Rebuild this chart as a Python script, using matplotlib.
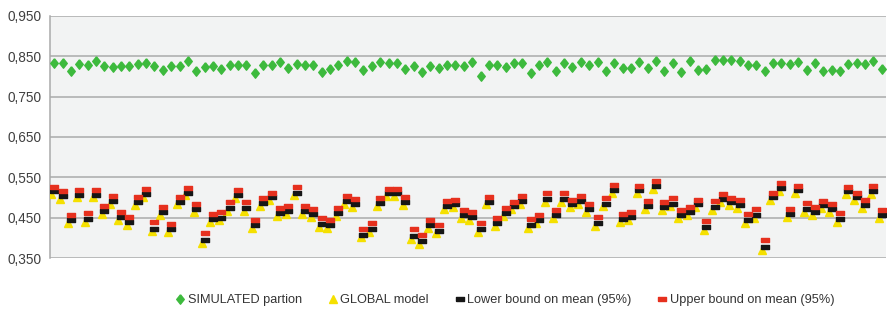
import numpy as np
import matplotlib
matplotlib.use('Agg')
import matplotlib.pyplot as plt
import matplotlib.transforms as mtransforms
from matplotlib.lines import Line2D

plt.rcParams['font.family'] = ['Liberation Sans', 'DejaVu Sans']

# values, one per run (100 runs)
simulated = [0.833, 0.833, 0.814, 0.832, 0.828, 0.838, 0.825, 0.823, 0.825, 0.825,
             0.831, 0.833, 0.825, 0.817, 0.825, 0.827, 0.838, 0.814, 0.823, 0.825,
             0.818, 0.828, 0.829, 0.829, 0.808, 0.828, 0.829, 0.835, 0.821, 0.832,
             0.828, 0.828, 0.810, 0.819, 0.828, 0.838, 0.836, 0.817, 0.825, 0.835,
             0.833, 0.833, 0.819, 0.825, 0.811, 0.825, 0.821, 0.828, 0.828, 0.825,
             0.835, 0.800, 0.829, 0.828, 0.823, 0.833, 0.833, 0.808, 0.828, 0.836,
             0.813, 0.833, 0.823, 0.836, 0.829, 0.836, 0.814, 0.833, 0.821, 0.821,
             0.836, 0.821, 0.839, 0.814, 0.833, 0.811, 0.839, 0.817, 0.819, 0.840,
             0.842, 0.842, 0.838, 0.829, 0.828, 0.813, 0.833, 0.833, 0.831, 0.836,
             0.817, 0.833, 0.813, 0.817, 0.814, 0.831, 0.833, 0.831, 0.838, 0.818]

lower = [0.515, 0.504, 0.443, 0.507, 0.446, 0.507, 0.467, 0.492, 0.452, 0.439,
         0.488, 0.508, 0.423, 0.464, 0.421, 0.490, 0.512, 0.471, 0.395, 0.446,
         0.450, 0.474, 0.506, 0.474, 0.431, 0.487, 0.500, 0.462, 0.466, 0.512,
         0.466, 0.459, 0.435, 0.431, 0.462, 0.492, 0.484, 0.408, 0.422, 0.487,
         0.510, 0.510, 0.488, 0.404, 0.392, 0.431, 0.418, 0.478, 0.483, 0.457,
         0.451, 0.422, 0.490, 0.437, 0.462, 0.478, 0.491, 0.431, 0.443, 0.497,
         0.456, 0.497, 0.483, 0.492, 0.472, 0.437, 0.485, 0.518, 0.446, 0.452,
         0.518, 0.479, 0.529, 0.477, 0.485, 0.457, 0.464, 0.483, 0.426, 0.477,
         0.496, 0.488, 0.482, 0.444, 0.457, 0.377, 0.500, 0.523, 0.458, 0.518,
         0.472, 0.464, 0.481, 0.471, 0.446, 0.515, 0.502, 0.481, 0.515, 0.457]

upper = [0.527, 0.515, 0.457, 0.519, 0.461, 0.518, 0.479, 0.504, 0.464, 0.452,
         0.500, 0.521, 0.439, 0.477, 0.435, 0.502, 0.523, 0.483, 0.412, 0.458,
         0.464, 0.488, 0.518, 0.488, 0.444, 0.498, 0.512, 0.475, 0.479, 0.525,
         0.478, 0.472, 0.448, 0.444, 0.475, 0.504, 0.496, 0.422, 0.437, 0.498,
         0.521, 0.521, 0.500, 0.422, 0.408, 0.444, 0.433, 0.492, 0.494, 0.469,
         0.464, 0.436, 0.502, 0.450, 0.475, 0.490, 0.504, 0.446, 0.457, 0.510,
         0.468, 0.510, 0.494, 0.504, 0.485, 0.452, 0.498, 0.531, 0.458, 0.465,
         0.529, 0.492, 0.540, 0.488, 0.498, 0.469, 0.477, 0.494, 0.442, 0.492,
         0.508, 0.498, 0.494, 0.458, 0.471, 0.394, 0.512, 0.535, 0.472, 0.529,
         0.486, 0.477, 0.492, 0.483, 0.461, 0.527, 0.512, 0.493, 0.528, 0.469]

global_model = [0.508, 0.497, 0.436, 0.500, 0.439, 0.500, 0.460, 0.485, 0.445, 0.432,
                0.481, 0.501, 0.416, 0.457, 0.414, 0.483, 0.505, 0.464, 0.388, 0.439,
                0.443, 0.467, 0.499, 0.467, 0.424, 0.480, 0.493, 0.455, 0.459, 0.505,
                0.459, 0.452, 0.428, 0.424, 0.455, 0.485, 0.477, 0.401, 0.415, 0.480,
                0.503, 0.503, 0.481, 0.397, 0.385, 0.424, 0.411, 0.471, 0.476, 0.450,
                0.444, 0.415, 0.483, 0.430, 0.455, 0.471, 0.484, 0.424, 0.436, 0.490,
                0.449, 0.490, 0.476, 0.485, 0.465, 0.430, 0.478, 0.511, 0.439, 0.445,
                0.511, 0.472, 0.522, 0.470, 0.478, 0.450, 0.457, 0.476, 0.419, 0.470,
                0.489, 0.481, 0.475, 0.437, 0.450, 0.370, 0.493, 0.516, 0.451, 0.511,
                0.465, 0.457, 0.474, 0.464, 0.439, 0.508, 0.495, 0.474, 0.508, 0.450]

yticks = [0.35, 0.45, 0.55, 0.65, 0.75, 0.85, 0.95]
labels = ['SIMULATED partion', 'GLOBAL model',
          'Lower bound on mean (95%)', 'Upper bound on mean (95%)']

green = '#3dba3d'
yellow = '#f5e000'
black = '#161616'
red = '#e6301e'

dash = [(-1, -0.5), (1, -0.5), (1, 0.5), (-1, 0.5), (-1, -0.5)]
diamond = [(0, 1), (0.8, 0), (0, -1), (-0.8, 0), (0, 1)]

fig = plt.figure(figsize=(8.89, 3.13), dpi=100)
ax = fig.add_axes([0.0562, 0.1757, 0.9404, 0.7733])
ax.set_facecolor('#f2f3f3')

x = np.arange(len(simulated))

# the triangles sit a little to the left of the dashes
shift = mtransforms.offset_copy(ax.transData, fig=fig, x=-2.7, y=0, units='dots')
ax.plot(x, global_model, ls='none', marker='^', ms=5.6, color=yellow,
        mec=yellow, transform=shift, zorder=3)
ax.plot(x, lower, ls='none', marker=dash, ms=5.2, color=black, mec=black, zorder=4)
ax.plot(x, upper, ls='none', marker=dash, ms=5.2, color=red, mec=red, zorder=4)
ax.plot(x, simulated, ls='none', marker=diamond, ms=6.8, color=green, mec=green, zorder=5)

ax.set_xlim(-0.5, len(simulated) - 0.5)
ax.set_ylim(0.35, 0.95)
ax.set_yticks(yticks)
ax.set_yticklabels([('%.3f' % v).replace('.', ',') for v in yticks])
ax.set_xticks([])
ax.yaxis.grid(True, color='#aaaaaa', lw=1.1)
ax.set_axisbelow(True)
ax.tick_params(axis='y', length=0, pad=6, labelsize=9.8, labelcolor='#404040')
for side in ['top', 'right', 'bottom']:
    ax.spines[side].set_visible(False)
ax.spines['left'].set_color('#aaaaaa')
ax.spines['left'].set_linewidth(1.1)

handles = [
    Line2D([], [], ls='none', marker=diamond, ms=6.8, color=green),
    Line2D([], [], ls='none', marker='^', ms=5.6, color=yellow),
    Line2D([], [], ls='none', marker=dash, ms=5.2, color=black),
    Line2D([], [], ls='none', marker=dash, ms=5.2, color=red),
]
fig.legend(handles, labels, loc='center', bbox_to_anchor=(0.568, 0.04), ncol=4,
           frameon=False, fontsize=9.2, handlelength=0.8, handletextpad=0.2,
           columnspacing=2.0, labelcolor='#333333')

fig.savefig('out.png', dpi=100)
